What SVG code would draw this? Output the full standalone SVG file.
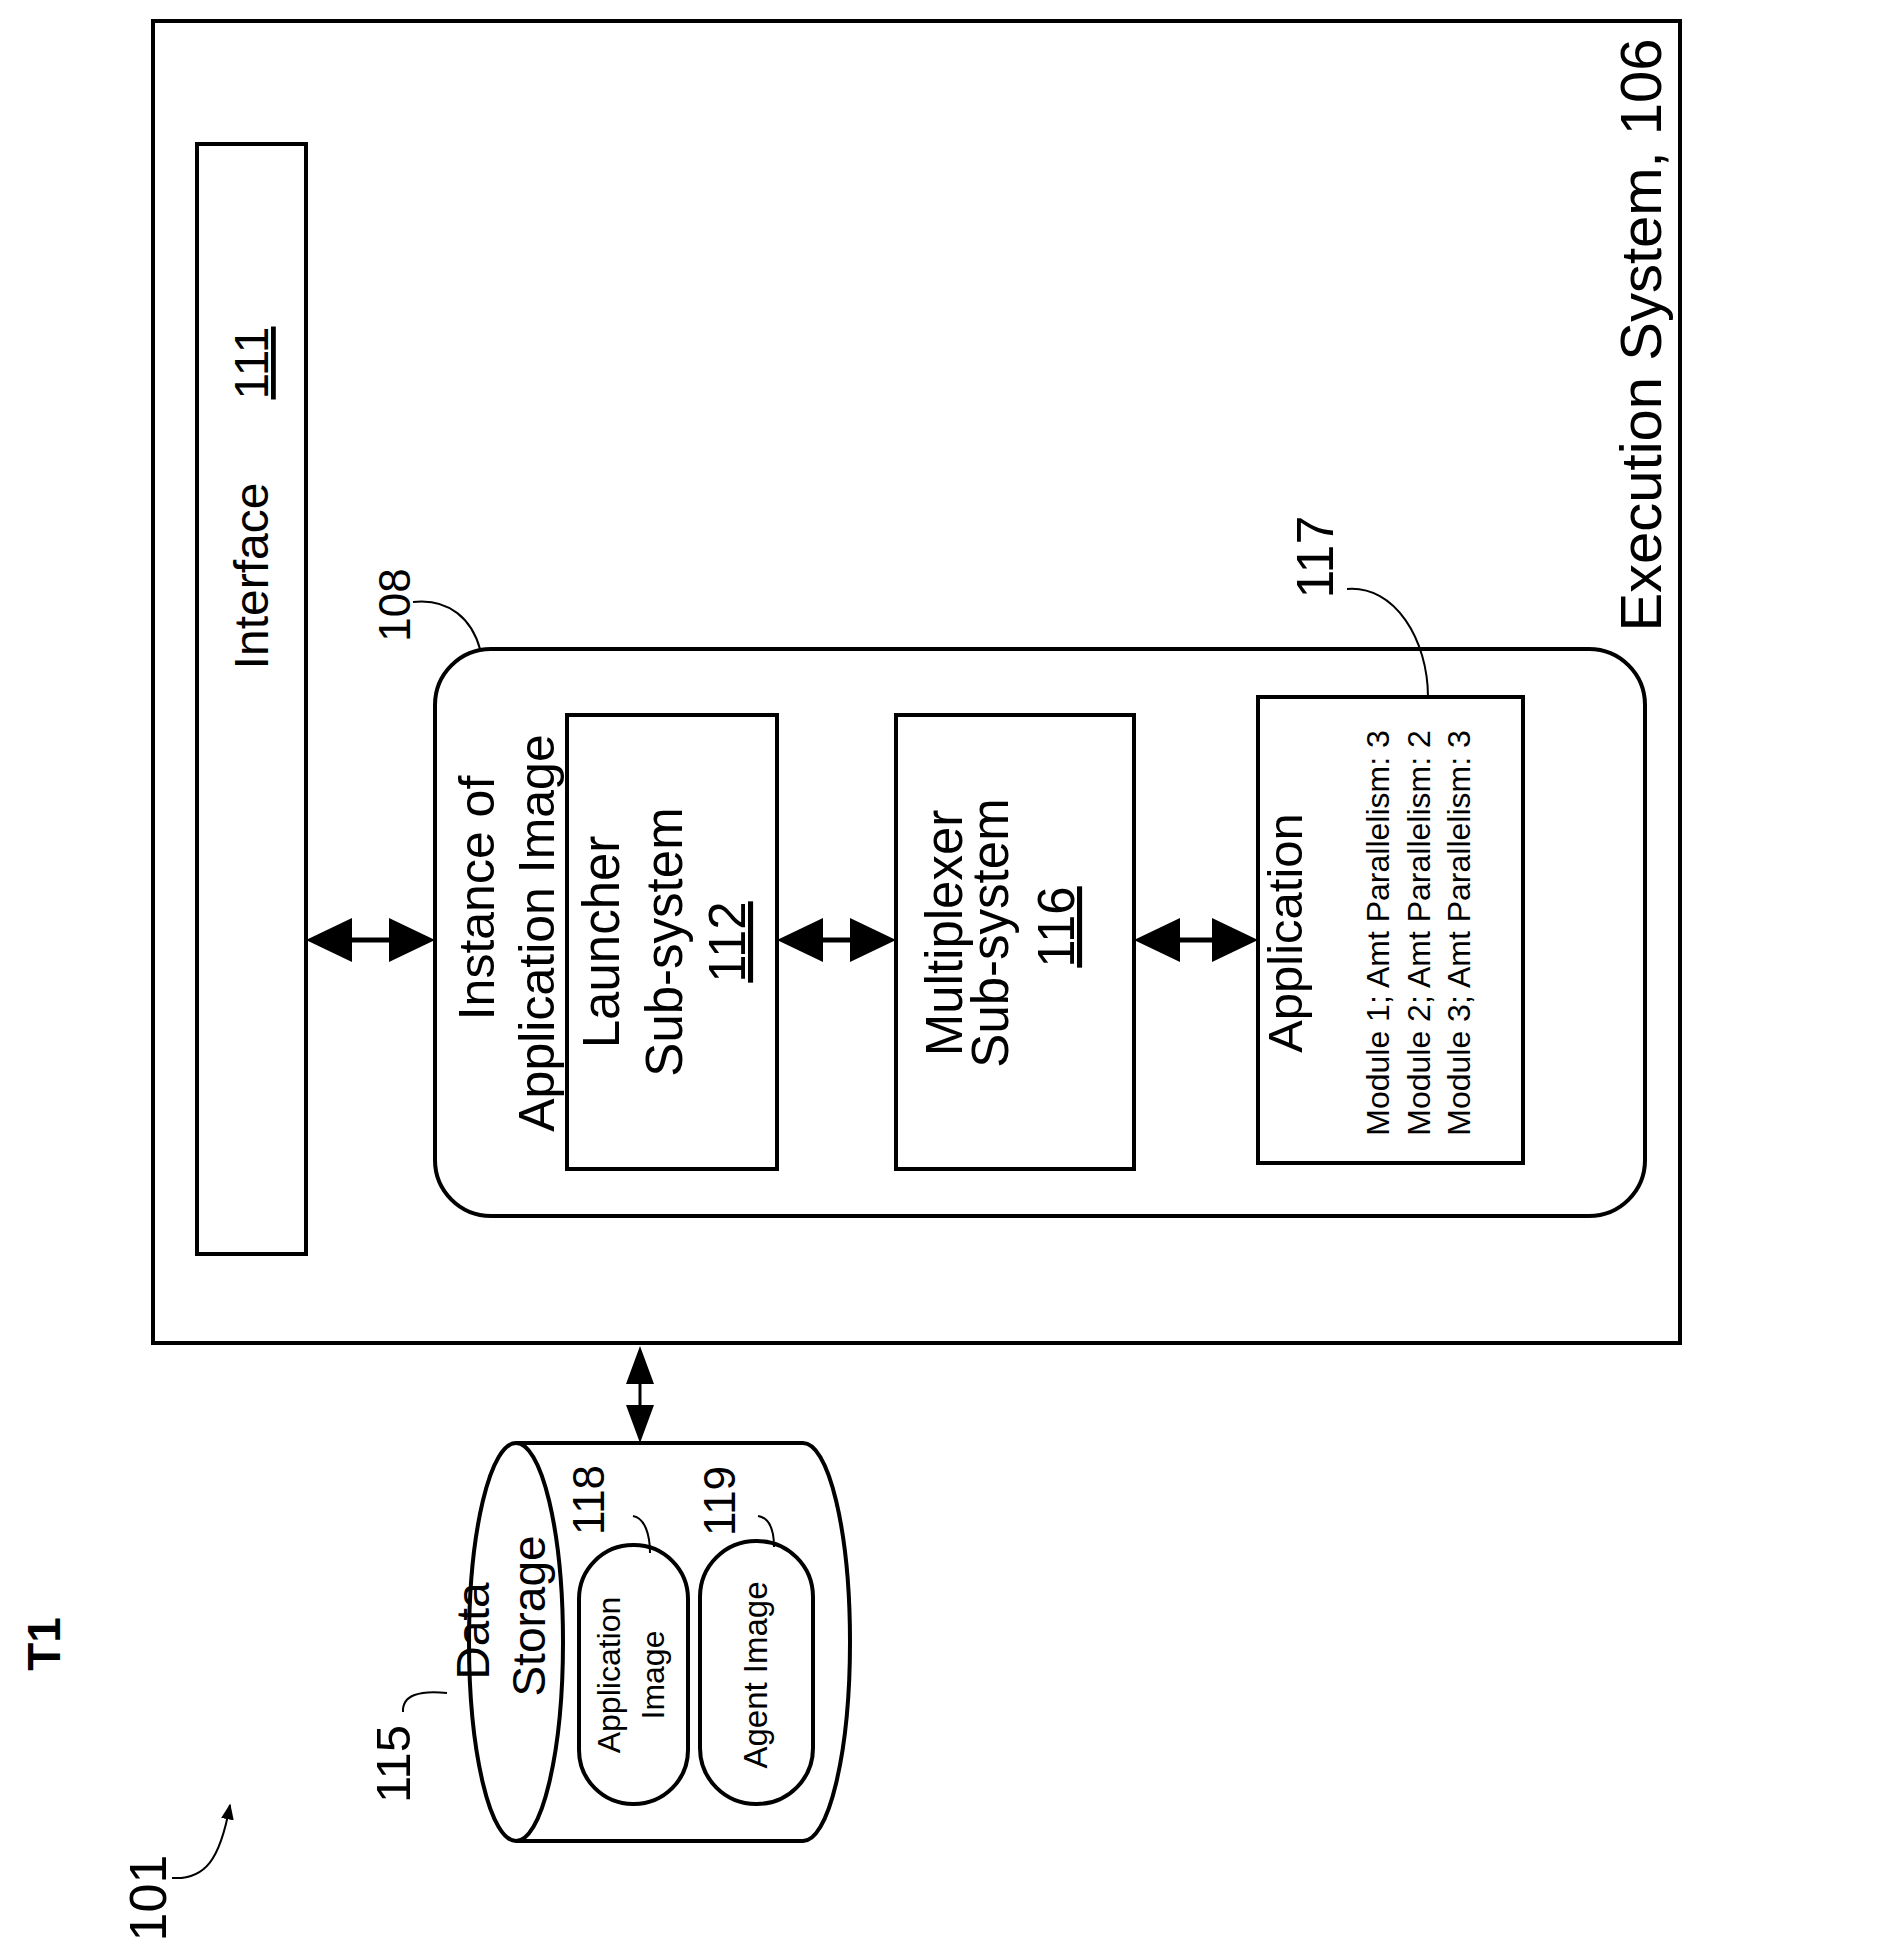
<svg xmlns="http://www.w3.org/2000/svg" width="1879" height="1959" viewBox="0 0 1879 1959">
<style>
text{font-family:"Liberation Sans",Arial,sans-serif;fill:#000;text-anchor:middle}
.box{fill:#fff;stroke:#000;stroke-width:4}
.ln{fill:none;stroke:#000;stroke-width:2}
.st{stroke:#000;stroke-width:5}
.hd{fill:#000}
</style>
<defs>
<marker id="ah2" viewBox="0 0 10 10" refX="9" refY="5" markerWidth="16" markerHeight="16" markerUnits="userSpaceOnUse" orient="auto"><path d="M0,1 L10,5 L0,9 z" fill="#000"/></marker>
</defs>
<text transform="translate(60,1644) rotate(-90)" font-size="46" font-weight="bold">T1</text>
<g id="execution-system">
<rect class="box" x="153" y="21" width="1527" height="1322"/>
<text transform="translate(1661,335) rotate(-90)" font-size="58">Execution System, 106</text>
</g>
<g id="interface">
<rect class="box" x="197" y="144" width="109" height="1110"/>
<text transform="translate(268,576) rotate(-90)" font-size="48">Interface</text>
<text transform="translate(268,363) rotate(-90)" font-size="48" text-decoration="underline">111</text>
</g>
<g id="instance">
<rect class="box" x="435" y="649" width="1210" height="567" rx="56"/>
<text transform="translate(494,898) rotate(-90)" font-size="50">Instance of</text>
<text transform="translate(554,933) rotate(-90)" font-size="50">Application Image</text>
<path class="ln" d="M413,602 C450,598 472,620 480,649"/>
<text transform="translate(410,605) rotate(-90)" font-size="44">108</text>
</g>
<g id="launcher">
<rect class="box" x="567" y="715" width="210" height="454"/>
<text transform="translate(619,942) rotate(-90)" font-size="51">Launcher</text>
<text transform="translate(682,942) rotate(-90)" font-size="51">Sub-system</text>
<text transform="translate(745,942) rotate(-90)" font-size="51" text-decoration="underline">112</text>
</g>
<g id="multiplexer">
<rect class="box" x="896" y="715" width="238" height="454"/>
<text transform="translate(962,933) rotate(-90)" font-size="51">Multiplexer</text>
<text transform="translate(1008,933) rotate(-90)" font-size="51">Sub-system</text>
<text transform="translate(1074,927) rotate(-90)" font-size="51" text-decoration="underline">116</text>
</g>
<g id="application">
<rect class="box" x="1258" y="697" width="265" height="466"/>
<text transform="translate(1302,933) rotate(-90)" font-size="49">Application</text>
<text transform="translate(1389,933) rotate(-90)" font-size="32">Module 1; Amt Parallelism: 3</text>
<text transform="translate(1430,933) rotate(-90)" font-size="32">Module 2; Amt Parallelism: 2</text>
<text transform="translate(1470,933) rotate(-90)" font-size="32">Module 3; Amt Parallelism: 3</text>
<path class="ln" d="M1347,589 C1395,585 1428,640 1428,697"/>
<text transform="translate(1333,557) rotate(-90)" font-size="52">117</text>
</g>
<g id="data-storage">
<path class="box" d="M516,1443 L803,1443 A47,199 0 0 1 803,1841 L516,1841"/>
<ellipse class="box" cx="516" cy="1642" rx="47" ry="199"/>
<text transform="translate(489,1631) rotate(-90)" font-size="46">Data</text>
<text transform="translate(545,1616) rotate(-90)" font-size="46">Storage</text>
<path class="ln" d="M403,1712 C402,1695 420,1690 447,1693"/>
<text transform="translate(410,1764) rotate(-90)" font-size="49">115</text>
</g>
<g id="application-image">
<rect class="box" x="579" y="1545" width="109" height="259" rx="54"/>
<text transform="translate(620,1675) rotate(-90)" font-size="32">Application</text>
<text transform="translate(664,1675) rotate(-90)" font-size="32">Image</text>
<path class="ln" d="M633,1516 C645,1518 650,1535 650,1553"/>
<text transform="translate(604,1500) rotate(-90)" font-size="44">118</text>
</g>
<g id="agent-image">
<rect class="box" x="700" y="1541" width="113" height="263" rx="56"/>
<text transform="translate(767,1675) rotate(-90)" font-size="33">Agent Image</text>
<path class="ln" d="M758,1516 C770,1518 774,1532 774,1547"/>
<text transform="translate(735,1501) rotate(-90)" font-size="44">119</text>
</g>
<text transform="translate(166,1898) rotate(-90)" font-size="52">101</text>
<g id="connectors">
<line class="st" x1="340" y1="940" x2="402" y2="940"/>
<path class="hd" d="M306,940 L352,918 L352,962 z M435,940 L389,918 L389,962 z"/>
<line class="st" x1="810" y1="940" x2="864" y2="940"/>
<path class="hd" d="M777,940 L823,918 L823,962 z M896,940 L850,918 L850,962 z"/>
<line class="st" x1="1168" y1="940" x2="1225" y2="940"/>
<path class="hd" d="M1134,940 L1180,918 L1180,962 z M1258,940 L1212,918 L1212,962 z"/>
<line x1="640" y1="1370" x2="640" y2="1420" stroke="#000" stroke-width="3"/>
<path class="hd" d="M640,1346 L626,1384 L654,1384 z M640,1443 L626,1405 L654,1405 z"/>
<path class="ln" d="M172,1878 C205,1880 220,1860 230,1805" marker-end="url(#ah2)"/>
</g>
</svg>
